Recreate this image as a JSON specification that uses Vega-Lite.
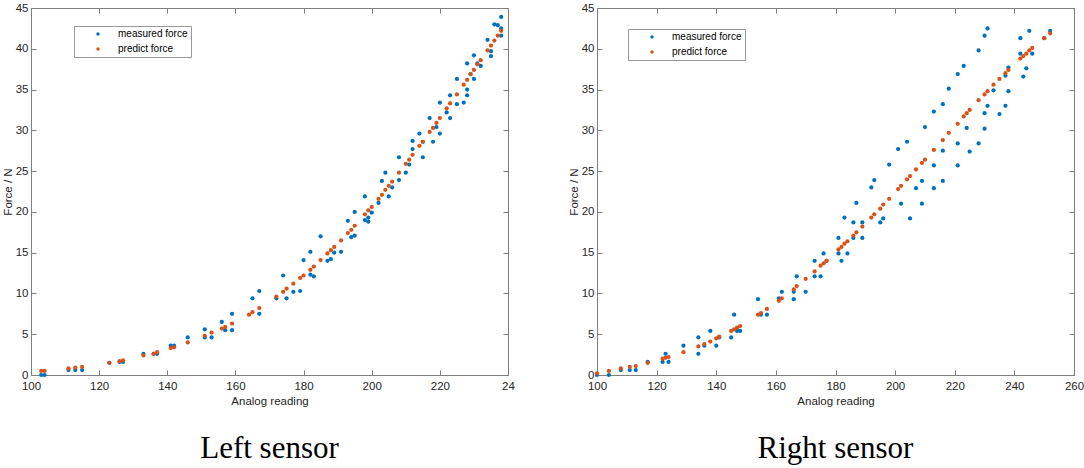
{
  "$schema": "https://vega.github.io/schema/vega-lite/v6.json",
  "background": "#ffffff",
  "padding": {"left": 1, "top": 1, "right": 0, "bottom": 0},
  "datasets": {
    "left": [
      {"reading":103,"force":0,"type":"measured force"},
      {"reading":104,"force":0,"type":"measured force"},
      {"reading":111,"force":0.6,"type":"measured force"},
      {"reading":113,"force":0.6,"type":"measured force"},
      {"reading":115,"force":0.6,"type":"measured force"},
      {"reading":123,"force":1.5,"type":"measured force"},
      {"reading":126,"force":1.6,"type":"measured force"},
      {"reading":127,"force":1.6,"type":"measured force"},
      {"reading":133,"force":2.6,"type":"measured force"},
      {"reading":136,"force":2.6,"type":"measured force"},
      {"reading":137,"force":2.6,"type":"measured force"},
      {"reading":141,"force":3.6,"type":"measured force"},
      {"reading":142,"force":3.6,"type":"measured force"},
      {"reading":146,"force":4.6,"type":"measured force"},
      {"reading":151,"force":5.6,"type":"measured force"},
      {"reading":151,"force":4.6,"type":"measured force"},
      {"reading":153,"force":4.6,"type":"measured force"},
      {"reading":156,"force":6.5,"type":"measured force"},
      {"reading":157,"force":5.5,"type":"measured force"},
      {"reading":159,"force":7.5,"type":"measured force"},
      {"reading":159,"force":5.5,"type":"measured force"},
      {"reading":165,"force":9.4,"type":"measured force"},
      {"reading":167,"force":10.3,"type":"measured force"},
      {"reading":167,"force":7.5,"type":"measured force"},
      {"reading":172,"force":9.4,"type":"measured force"},
      {"reading":174,"force":12.2,"type":"measured force"},
      {"reading":175,"force":9.4,"type":"measured force"},
      {"reading":177,"force":10.2,"type":"measured force"},
      {"reading":179,"force":10.3,"type":"measured force"},
      {"reading":180,"force":14.1,"type":"measured force"},
      {"reading":182,"force":15.1,"type":"measured force"},
      {"reading":182,"force":12.3,"type":"measured force"},
      {"reading":183,"force":12.1,"type":"measured force"},
      {"reading":185,"force":17.0,"type":"measured force"},
      {"reading":187,"force":14.0,"type":"measured force"},
      {"reading":188,"force":14.2,"type":"measured force"},
      {"reading":189,"force":15.0,"type":"measured force"},
      {"reading":191,"force":15.1,"type":"measured force"},
      {"reading":193,"force":18.9,"type":"measured force"},
      {"reading":194,"force":16.9,"type":"measured force"},
      {"reading":195,"force":20.0,"type":"measured force"},
      {"reading":195,"force":17.1,"type":"measured force"},
      {"reading":198,"force":21.9,"type":"measured force"},
      {"reading":198,"force":19.0,"type":"measured force"},
      {"reading":199,"force":19.3,"type":"measured force"},
      {"reading":199,"force":18.8,"type":"measured force"},
      {"reading":200,"force":19.9,"type":"measured force"},
      {"reading":202,"force":21.1,"type":"measured force"},
      {"reading":203,"force":23.8,"type":"measured force"},
      {"reading":204,"force":24.8,"type":"measured force"},
      {"reading":205,"force":21.9,"type":"measured force"},
      {"reading":206,"force":23.0,"type":"measured force"},
      {"reading":208,"force":26.7,"type":"measured force"},
      {"reading":208,"force":23.9,"type":"measured force"},
      {"reading":210,"force":24.8,"type":"measured force"},
      {"reading":211,"force":25.8,"type":"measured force"},
      {"reading":212,"force":28.7,"type":"measured force"},
      {"reading":212,"force":27.7,"type":"measured force"},
      {"reading":214,"force":29.6,"type":"measured force"},
      {"reading":215,"force":26.7,"type":"measured force"},
      {"reading":215,"force":28.6,"type":"measured force"},
      {"reading":217,"force":31.5,"type":"measured force"},
      {"reading":218,"force":28.6,"type":"measured force"},
      {"reading":219,"force":30.4,"type":"measured force"},
      {"reading":220,"force":33.4,"type":"measured force"},
      {"reading":220,"force":29.6,"type":"measured force"},
      {"reading":222,"force":32.2,"type":"measured force"},
      {"reading":223,"force":34.3,"type":"measured force"},
      {"reading":223,"force":31.5,"type":"measured force"},
      {"reading":225,"force":36.3,"type":"measured force"},
      {"reading":225,"force":33.2,"type":"measured force"},
      {"reading":227,"force":33.4,"type":"measured force"},
      {"reading":228,"force":38.2,"type":"measured force"},
      {"reading":228,"force":35.0,"type":"measured force"},
      {"reading":228,"force":34.3,"type":"measured force"},
      {"reading":229,"force":36.9,"type":"measured force"},
      {"reading":230,"force":39.2,"type":"measured force"},
      {"reading":230,"force":36.3,"type":"measured force"},
      {"reading":231,"force":38.2,"type":"measured force"},
      {"reading":232,"force":37.9,"type":"measured force"},
      {"reading":234,"force":41.1,"type":"measured force"},
      {"reading":235,"force":39.7,"type":"measured force"},
      {"reading":235,"force":39.1,"type":"measured force"},
      {"reading":236,"force":43.0,"type":"measured force"},
      {"reading":237,"force":42.9,"type":"measured force"},
      {"reading":238,"force":43.9,"type":"measured force"},
      {"reading":238,"force":42.5,"type":"measured force"},
      {"reading":238,"force":41.6,"type":"measured force"},
      {"reading":103,"force":0.5,"type":"predict force"},
      {"reading":104,"force":0.5,"type":"predict force"},
      {"reading":111,"force":0.8,"type":"predict force"},
      {"reading":113,"force":0.9,"type":"predict force"},
      {"reading":115,"force":1.0,"type":"predict force"},
      {"reading":123,"force":1.5,"type":"predict force"},
      {"reading":126,"force":1.7,"type":"predict force"},
      {"reading":127,"force":1.8,"type":"predict force"},
      {"reading":133,"force":2.4,"type":"predict force"},
      {"reading":136,"force":2.6,"type":"predict force"},
      {"reading":137,"force":2.8,"type":"predict force"},
      {"reading":141,"force":3.3,"type":"predict force"},
      {"reading":142,"force":3.4,"type":"predict force"},
      {"reading":146,"force":4.0,"type":"predict force"},
      {"reading":151,"force":4.8,"type":"predict force"},
      {"reading":153,"force":5.2,"type":"predict force"},
      {"reading":156,"force":5.7,"type":"predict force"},
      {"reading":157,"force":5.9,"type":"predict force"},
      {"reading":159,"force":6.3,"type":"predict force"},
      {"reading":164,"force":7.4,"type":"predict force"},
      {"reading":165,"force":7.7,"type":"predict force"},
      {"reading":167,"force":8.2,"type":"predict force"},
      {"reading":172,"force":9.6,"type":"predict force"},
      {"reading":174,"force":10.2,"type":"predict force"},
      {"reading":175,"force":10.6,"type":"predict force"},
      {"reading":177,"force":11.2,"type":"predict force"},
      {"reading":179,"force":11.9,"type":"predict force"},
      {"reading":180,"force":12.2,"type":"predict force"},
      {"reading":182,"force":12.9,"type":"predict force"},
      {"reading":183,"force":13.3,"type":"predict force"},
      {"reading":185,"force":14.1,"type":"predict force"},
      {"reading":187,"force":14.9,"type":"predict force"},
      {"reading":188,"force":15.3,"type":"predict force"},
      {"reading":189,"force":15.7,"type":"predict force"},
      {"reading":191,"force":16.5,"type":"predict force"},
      {"reading":193,"force":17.4,"type":"predict force"},
      {"reading":194,"force":17.8,"type":"predict force"},
      {"reading":195,"force":18.3,"type":"predict force"},
      {"reading":198,"force":19.7,"type":"predict force"},
      {"reading":199,"force":20.2,"type":"predict force"},
      {"reading":200,"force":20.6,"type":"predict force"},
      {"reading":202,"force":21.6,"type":"predict force"},
      {"reading":203,"force":22.1,"type":"predict force"},
      {"reading":204,"force":22.7,"type":"predict force"},
      {"reading":205,"force":23.2,"type":"predict force"},
      {"reading":206,"force":23.7,"type":"predict force"},
      {"reading":208,"force":24.8,"type":"predict force"},
      {"reading":210,"force":25.9,"type":"predict force"},
      {"reading":211,"force":26.4,"type":"predict force"},
      {"reading":212,"force":27.0,"type":"predict force"},
      {"reading":214,"force":28.1,"type":"predict force"},
      {"reading":215,"force":28.6,"type":"predict force"},
      {"reading":217,"force":29.8,"type":"predict force"},
      {"reading":218,"force":30.3,"type":"predict force"},
      {"reading":219,"force":30.9,"type":"predict force"},
      {"reading":220,"force":31.5,"type":"predict force"},
      {"reading":222,"force":32.7,"type":"predict force"},
      {"reading":223,"force":33.3,"type":"predict force"},
      {"reading":225,"force":34.4,"type":"predict force"},
      {"reading":227,"force":35.6,"type":"predict force"},
      {"reading":228,"force":36.2,"type":"predict force"},
      {"reading":229,"force":36.9,"type":"predict force"},
      {"reading":230,"force":37.4,"type":"predict force"},
      {"reading":231,"force":38.1,"type":"predict force"},
      {"reading":232,"force":38.6,"type":"predict force"},
      {"reading":234,"force":39.8,"type":"predict force"},
      {"reading":235,"force":40.4,"type":"predict force"},
      {"reading":236,"force":41.0,"type":"predict force"},
      {"reading":237,"force":41.6,"type":"predict force"},
      {"reading":238,"force":42.2,"type":"predict force"}
    ],
    "right": [
      {"reading":100,"force":0,"type":"measured force"},
      {"reading":104,"force":0,"type":"measured force"},
      {"reading":108,"force":0.6,"type":"measured force"},
      {"reading":111,"force":0.6,"type":"measured force"},
      {"reading":113,"force":0.6,"type":"measured force"},
      {"reading":117,"force":1.6,"type":"measured force"},
      {"reading":122,"force":1.6,"type":"measured force"},
      {"reading":123,"force":2.6,"type":"measured force"},
      {"reading":124,"force":1.6,"type":"measured force"},
      {"reading":129,"force":3.6,"type":"measured force"},
      {"reading":134,"force":4.6,"type":"measured force"},
      {"reading":134,"force":2.6,"type":"measured force"},
      {"reading":136,"force":3.6,"type":"measured force"},
      {"reading":138,"force":5.4,"type":"measured force"},
      {"reading":140,"force":3.6,"type":"measured force"},
      {"reading":141,"force":4.6,"type":"measured force"},
      {"reading":145,"force":4.6,"type":"measured force"},
      {"reading":146,"force":7.4,"type":"measured force"},
      {"reading":147,"force":5.4,"type":"measured force"},
      {"reading":148,"force":5.4,"type":"measured force"},
      {"reading":154,"force":9.3,"type":"measured force"},
      {"reading":155,"force":7.4,"type":"measured force"},
      {"reading":157,"force":7.4,"type":"measured force"},
      {"reading":161,"force":9.4,"type":"measured force"},
      {"reading":162,"force":10.2,"type":"measured force"},
      {"reading":166,"force":10.2,"type":"measured force"},
      {"reading":166,"force":9.3,"type":"measured force"},
      {"reading":167,"force":12.1,"type":"measured force"},
      {"reading":170,"force":10.2,"type":"measured force"},
      {"reading":173,"force":14.0,"type":"measured force"},
      {"reading":173,"force":12.1,"type":"measured force"},
      {"reading":175,"force":12.1,"type":"measured force"},
      {"reading":176,"force":14.9,"type":"measured force"},
      {"reading":177,"force":14.0,"type":"measured force"},
      {"reading":181,"force":16.8,"type":"measured force"},
      {"reading":181,"force":14.9,"type":"measured force"},
      {"reading":182,"force":14.0,"type":"measured force"},
      {"reading":183,"force":19.3,"type":"measured force"},
      {"reading":184,"force":14.9,"type":"measured force"},
      {"reading":186,"force":18.7,"type":"measured force"},
      {"reading":186,"force":16.8,"type":"measured force"},
      {"reading":187,"force":21.1,"type":"measured force"},
      {"reading":189,"force":18.7,"type":"measured force"},
      {"reading":189,"force":16.8,"type":"measured force"},
      {"reading":192,"force":23.0,"type":"measured force"},
      {"reading":193,"force":23.9,"type":"measured force"},
      {"reading":195,"force":18.7,"type":"measured force"},
      {"reading":196,"force":19.2,"type":"measured force"},
      {"reading":198,"force":25.8,"type":"measured force"},
      {"reading":201,"force":27.7,"type":"measured force"},
      {"reading":202,"force":21.0,"type":"measured force"},
      {"reading":204,"force":28.6,"type":"measured force"},
      {"reading":205,"force":19.2,"type":"measured force"},
      {"reading":207,"force":22.9,"type":"measured force"},
      {"reading":209,"force":23.8,"type":"measured force"},
      {"reading":209,"force":21.0,"type":"measured force"},
      {"reading":210,"force":30.4,"type":"measured force"},
      {"reading":213,"force":32.3,"type":"measured force"},
      {"reading":213,"force":25.7,"type":"measured force"},
      {"reading":213,"force":22.9,"type":"measured force"},
      {"reading":216,"force":33.2,"type":"measured force"},
      {"reading":216,"force":27.5,"type":"measured force"},
      {"reading":216,"force":23.8,"type":"measured force"},
      {"reading":218,"force":35.1,"type":"measured force"},
      {"reading":221,"force":36.9,"type":"measured force"},
      {"reading":221,"force":28.4,"type":"measured force"},
      {"reading":221,"force":25.7,"type":"measured force"},
      {"reading":223,"force":37.9,"type":"measured force"},
      {"reading":224,"force":30.3,"type":"measured force"},
      {"reading":225,"force":27.4,"type":"measured force"},
      {"reading":228,"force":39.8,"type":"measured force"},
      {"reading":228,"force":28.4,"type":"measured force"},
      {"reading":230,"force":41.6,"type":"measured force"},
      {"reading":230,"force":32.1,"type":"measured force"},
      {"reading":230,"force":30.2,"type":"measured force"},
      {"reading":231,"force":42.5,"type":"measured force"},
      {"reading":231,"force":33.0,"type":"measured force"},
      {"reading":233,"force":34.9,"type":"measured force"},
      {"reading":235,"force":32.0,"type":"measured force"},
      {"reading":237,"force":33.0,"type":"measured force"},
      {"reading":237,"force":36.7,"type":"measured force"},
      {"reading":238,"force":37.7,"type":"measured force"},
      {"reading":238,"force":34.8,"type":"measured force"},
      {"reading":242,"force":41.3,"type":"measured force"},
      {"reading":242,"force":39.4,"type":"measured force"},
      {"reading":243,"force":36.6,"type":"measured force"},
      {"reading":244,"force":37.6,"type":"measured force"},
      {"reading":245,"force":42.2,"type":"measured force"},
      {"reading":246,"force":39.4,"type":"measured force"},
      {"reading":250,"force":41.3,"type":"measured force"},
      {"reading":252,"force":42.2,"type":"measured force"},
      {"reading":100,"force":0.2,"type":"predict force"},
      {"reading":104,"force":0.5,"type":"predict force"},
      {"reading":108,"force":0.8,"type":"predict force"},
      {"reading":111,"force":1.0,"type":"predict force"},
      {"reading":113,"force":1.1,"type":"predict force"},
      {"reading":117,"force":1.5,"type":"predict force"},
      {"reading":122,"force":2.0,"type":"predict force"},
      {"reading":123,"force":2.1,"type":"predict force"},
      {"reading":124,"force":2.2,"type":"predict force"},
      {"reading":129,"force":2.8,"type":"predict force"},
      {"reading":134,"force":3.5,"type":"predict force"},
      {"reading":136,"force":3.8,"type":"predict force"},
      {"reading":138,"force":4.1,"type":"predict force"},
      {"reading":140,"force":4.5,"type":"predict force"},
      {"reading":141,"force":4.7,"type":"predict force"},
      {"reading":145,"force":5.4,"type":"predict force"},
      {"reading":146,"force":5.6,"type":"predict force"},
      {"reading":147,"force":5.8,"type":"predict force"},
      {"reading":148,"force":6.0,"type":"predict force"},
      {"reading":154,"force":7.4,"type":"predict force"},
      {"reading":155,"force":7.6,"type":"predict force"},
      {"reading":157,"force":8.1,"type":"predict force"},
      {"reading":161,"force":9.1,"type":"predict force"},
      {"reading":162,"force":9.4,"type":"predict force"},
      {"reading":166,"force":10.5,"type":"predict force"},
      {"reading":167,"force":10.9,"type":"predict force"},
      {"reading":170,"force":11.8,"type":"predict force"},
      {"reading":173,"force":12.7,"type":"predict force"},
      {"reading":175,"force":13.4,"type":"predict force"},
      {"reading":176,"force":13.7,"type":"predict force"},
      {"reading":177,"force":14.0,"type":"predict force"},
      {"reading":181,"force":15.4,"type":"predict force"},
      {"reading":182,"force":15.7,"type":"predict force"},
      {"reading":183,"force":16.1,"type":"predict force"},
      {"reading":184,"force":16.4,"type":"predict force"},
      {"reading":186,"force":17.1,"type":"predict force"},
      {"reading":187,"force":17.5,"type":"predict force"},
      {"reading":189,"force":18.2,"type":"predict force"},
      {"reading":192,"force":19.3,"type":"predict force"},
      {"reading":193,"force":19.7,"type":"predict force"},
      {"reading":195,"force":20.4,"type":"predict force"},
      {"reading":196,"force":20.9,"type":"predict force"},
      {"reading":198,"force":21.6,"type":"predict force"},
      {"reading":201,"force":22.8,"type":"predict force"},
      {"reading":202,"force":23.2,"type":"predict force"},
      {"reading":204,"force":24.0,"type":"predict force"},
      {"reading":205,"force":24.4,"type":"predict force"},
      {"reading":207,"force":25.2,"type":"predict force"},
      {"reading":209,"force":26.0,"type":"predict force"},
      {"reading":210,"force":26.4,"type":"predict force"},
      {"reading":213,"force":27.6,"type":"predict force"},
      {"reading":216,"force":28.8,"type":"predict force"},
      {"reading":218,"force":29.7,"type":"predict force"},
      {"reading":221,"force":30.8,"type":"predict force"},
      {"reading":223,"force":31.7,"type":"predict force"},
      {"reading":224,"force":32.1,"type":"predict force"},
      {"reading":225,"force":32.5,"type":"predict force"},
      {"reading":228,"force":33.7,"type":"predict force"},
      {"reading":230,"force":34.4,"type":"predict force"},
      {"reading":231,"force":34.8,"type":"predict force"},
      {"reading":233,"force":35.6,"type":"predict force"},
      {"reading":235,"force":36.3,"type":"predict force"},
      {"reading":237,"force":37.0,"type":"predict force"},
      {"reading":238,"force":37.4,"type":"predict force"},
      {"reading":242,"force":38.8,"type":"predict force"},
      {"reading":243,"force":39.1,"type":"predict force"},
      {"reading":244,"force":39.4,"type":"predict force"},
      {"reading":245,"force":39.8,"type":"predict force"},
      {"reading":246,"force":40.1,"type":"predict force"},
      {"reading":250,"force":41.3,"type":"predict force"},
      {"reading":252,"force":41.9,"type":"predict force"}
    ]
  },
  "hconcat": [
    {
      "width": 477,
      "height": 367,
      "data": {"name": "left"},
      "title": {"text": "Left sensor", "orient": "bottom", "offset": 27},
      "layer": [
        {
          "mark": {"type": "point", "filled": true, "size": 18, "opacity": 1},
          "encoding": {
            "x": {
              "field": "reading", "type": "quantitative", "title": "Analog reading",
              "scale": {"domain": [100, 240], "nice": false, "zero": false},
              "axis": {"values": [100, 120, 140, 160, 180, 200, 220, 240], "labelExpr": "datum.value == 240 ? '24' : datum.label"}
            },
            "y": {
              "field": "force", "type": "quantitative", "title": "Force / N",
              "scale": {"domain": [0, 45], "nice": false},
              "axis": {"values": [0, 5, 10, 15, 20, 25, 30, 35, 40, 45]}
            },
            "color": {
              "field": "type", "type": "nominal",
              "scale": {"domain": ["measured force", "predict force"], "range": ["#0072BD", "#D95319"]},
              "legend": {"legendX": 43, "legendY": 18}
            }
          }
        },
        {
          "mark": {"type": "point", "opacity": 0},
          "encoding": {
            "x": {"field": "reading", "type": "quantitative", "axis": {"orient": "top", "labels": false, "title": null, "values": [100, 120, 140, 160, 180, 200, 220, 240]}},
            "y": {"field": "force", "type": "quantitative", "axis": {"orient": "right", "labels": false, "title": null, "values": [0, 5, 10, 15, 20, 25, 30, 35, 40, 45]}}
          }
        }
      ],
      "resolve": {"axis": {"x": "independent", "y": "independent"}}
    },
    {
      "width": 477,
      "height": 367,
      "data": {"name": "right"},
      "title": {"text": "Right sensor", "orient": "bottom", "offset": 27},
      "layer": [
        {
          "mark": {"type": "point", "filled": true, "size": 18, "opacity": 1},
          "encoding": {
            "x": {
              "field": "reading", "type": "quantitative", "title": "Analog reading",
              "scale": {"domain": [100, 260], "nice": false, "zero": false},
              "axis": {"values": [100, 120, 140, 160, 180, 200, 220, 240, 260]}
            },
            "y": {
              "field": "force", "type": "quantitative", "title": "Force / N",
              "scale": {"domain": [0, 45], "nice": false},
              "axis": {"values": [0, 5, 10, 15, 20, 25, 30, 35, 40, 45]}
            },
            "color": {
              "field": "type", "type": "nominal",
              "scale": {"domain": ["measured force", "predict force"], "range": ["#0072BD", "#D95319"]},
              "legend": {"legendX": 31, "legendY": 21}
            }
          }
        },
        {
          "mark": {"type": "point", "opacity": 0},
          "encoding": {
            "x": {"field": "reading", "type": "quantitative", "axis": {"orient": "top", "labels": false, "title": null, "values": [100, 120, 140, 160, 180, 200, 220, 240, 260]}},
            "y": {"field": "force", "type": "quantitative", "axis": {"orient": "right", "labels": false, "title": null, "values": [0, 5, 10, 15, 20, 25, 30, 35, 40, 45]}}
          }
        }
      ],
      "resolve": {"axis": {"x": "independent", "y": "independent"}}
    }
  ],
  "spacing": 52,
  "resolve": {"scale": {"color": "independent"}, "legend": {"color": "independent"}},
  "config": {
    "font": "Liberation Sans",
    "view": {"stroke": "#808080", "strokeWidth": 1},
    "axis": {
      "grid": false,
      "labelFlush": false,
      "domainColor": "#808080",
      "tickColor": "#808080",
      "tickSize": -5,
      "labelColor": "#262626",
      "labelFont": "Liberation Sans",
      "labelFontSize": 11.5,
      "labelPadding": 10,
      "titleColor": "#262626",
      "titleFont": "Liberation Sans",
      "titleFontSize": 11.5,
      "titleFontWeight": "normal",
      "titlePadding": 4
    },
    "axisY": {"labelPadding": 8, "titlePadding": 2},
    "legend": {
      "orient": "none",
      "title": null,
      "strokeColor": "#999999",
      "fillColor": "#ffffff",
      "padding": 3,
      "rowPadding": 5,
      "symbolType": "circle",
      "symbolSize": 12,
      "symbolOffset": 16,
      "labelOffset": 15,
      "labelFont": "Liberation Sans",
      "labelFontSize": 10,
      "labelColor": "#000000",
      "cornerRadius": 0
    },
    "title": {
      "font": "Liberation Serif",
      "fontSize": 31,
      "fontWeight": "normal",
      "color": "#000000",
      "anchor": "middle"
    }
  }
}
